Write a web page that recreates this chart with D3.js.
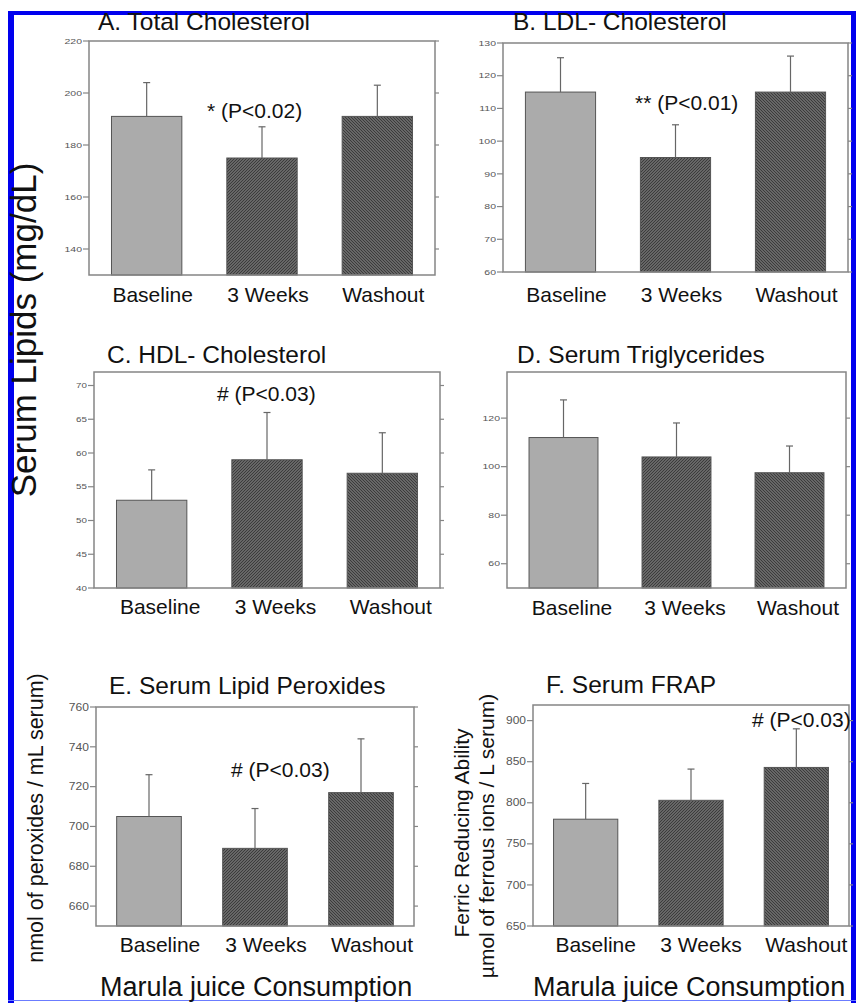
<!DOCTYPE html>
<html>
<head>
<meta charset="utf-8">
<script src="https://cdn.jsdelivr.net/npm/d3@7"></script>
<style>
  html, body { margin: 0; padding: 0; background: #fff; }
  svg { display: block; }
  text { font-family: "Liberation Sans", Arial, Helvetica, sans-serif; }
</style>
</head>
<body>
<svg id="chart" width="856" height="1003"></svg>
<script>
// ---------------- DATA ----------------
const categories = ["Baseline", "3 Weeks", "Washout"];

const totalCholMean = [191, 175, 191];
const totalCholErr  = [204, 187, 203];
const totalCholTicks = [140, 160, 180, 200, 220];

const ldlMean = [115, 95, 115];
const ldlErr  = [125.5, 105, 126];
const ldlTicks = [60, 70, 80, 90, 100, 110, 120, 130];

const hdlMean = [53, 59, 57];
const hdlErr  = [57.5, 66, 63];
const hdlTicks = [40, 45, 50, 55, 60, 65, 70];

const trigMean = [112, 104, 97.5];
const trigErr  = [127.5, 118, 108.5];
const trigTicks = [60, 80, 100, 120];

const peroxMean = [705, 689, 717];
const peroxErr  = [726, 709, 744];
const peroxTicks = [660, 680, 700, 720, 740, 760];

const frapMean = [780, 803, 843];
const frapErr  = [823.5, 841, 890];
const frapTicks = [650, 700, 750, 800, 850, 900];

const panelTitles = ["A. Total Cholesterol", "B. LDL- Cholesterol", "C. HDL- Cholesterol",
                     "D. Serum Triglycerides", "E. Serum Lipid Peroxides", "F. Serum FRAP"];
const annotations = ["* (P<0.02)", "** (P<0.01)", "# (P<0.03)", "", "# (P<0.03)", "# (P<0.03)"];

// ---------------- LAYOUT ----------------
const panels = [
  { title: panelTitles[0], mean: totalCholMean, err: totalCholErr, ticks: totalCholTicks, domain: [130, 220],
    x0: 89, x1: 435, y0: 41, y1: 275, tx: 98, ty: 30, note: annotations[0], nx: 207, ny: 118, lby: 302, ldx: 6, tf: 7.5, tsx: 1.4 },
  { title: panelTitles[1], mean: ldlMean, err: ldlErr, ticks: ldlTicks, domain: [60, 130],
    x0: 503, x1: 848, y0: 43, y1: 272, tx: 513, ty: 30, note: annotations[1], nx: 635, ny: 110, lby: 302, ldx: 6, tf: 7.5, tsx: 1.4 },
  { title: panelTitles[2], mean: hdlMean, err: hdlErr, ticks: hdlTicks, domain: [40, 72],
    x0: 94, x1: 440, y0: 372, y1: 588, tx: 107, ty: 363, note: annotations[2], nx: 217, ny: 401, lby: 614, ldx: 8.5, tf: 7, tsx: 1.4 },
  { title: panelTitles[3], mean: trigMean, err: trigErr, ticks: trigTicks, domain: [50, 139],
    x0: 507, x1: 846, y0: 372, y1: 588, tx: 517, ty: 363, note: annotations[3], nx: 0, ny: 0, lby: 615, ldx: 8.5, tf: 7.5, tsx: 1.4 },
  { title: panelTitles[4], mean: peroxMean, err: peroxErr, ticks: peroxTicks, domain: [650, 760],
    x0: 96, x1: 414, y0: 707, y1: 926, tx: 109, ty: 694, note: annotations[4], nx: 231, ny: 777, lby: 952, ldx: 11, tf: 10.5, tsx: 1.15 },
  { title: panelTitles[5], mean: frapMean, err: frapErr, ticks: frapTicks, domain: [650, 919],
    x0: 533, x1: 849, y0: 705, y1: 926, tx: 546, ty: 693, note: annotations[5], nx: 752, ny: 727, lby: 952, ldx: 10, tf: 10, tsx: 1.2 }
];

const svg = d3.select("#chart");

// hatch patterns
const defs = svg.append("defs");
function hatch(id, dir) {
  const p = defs.append("pattern").attr("id", id).attr("patternUnits", "userSpaceOnUse")
    .attr("width", 3).attr("height", 3);
  p.append("rect").attr("width", 3).attr("height", 3).attr("fill", "#7a7a7a");
  if (dir > 0) {
    p.append("path").attr("d", "M-1,1 L1,-1 M0,3 L3,0 M2,4 L4,2").attr("stroke", "#383838").attr("stroke-width", 1.1);
  } else {
    p.append("path").attr("d", "M-1,2 L1,4 M0,0 L3,3 M2,-1 L4,1").attr("stroke", "#383838").attr("stroke-width", 1.1);
  }
}
hatch("hatchUp", 1);
hatch("hatchDown", -1);
const fills = ["#ababab", "url(#hatchUp)", "url(#hatchDown)"];

// blue outer frame
svg.append("rect").attr("x", 8).attr("y", 11).attr("width", 848).attr("height", 4).attr("fill", "#0000ee");
svg.append("rect").attr("x", 8).attr("y", 11).attr("width", 6).attr("height", 992).attr("fill", "#0000ee");
svg.append("rect").attr("x", 851).attr("y", 11).attr("width", 5).attr("height", 992).attr("fill", "#0000ee");
svg.append("rect").attr("x", 8).attr("y", 1000).attr("width", 848).attr("height", 1).attr("fill", "#6b7cff");

panels.forEach(p => {
  const g = svg.append("g");
  const x = d3.scaleBand().domain(categories).range([p.x0, p.x1]).paddingInner(0.39).paddingOuter(0.195);
  const y = d3.scaleLinear().domain(p.domain).range([p.y1, p.y0]);

  // bars
  g.selectAll("rect.bar").data(categories).join("rect")
    .attr("class", "bar")
    .attr("x", d => x(d))
    .attr("width", x.bandwidth())
    .attr("y", (d, i) => y(p.mean[i]))
    .attr("height", (d, i) => y(p.domain[0]) - y(p.mean[i]))
    .attr("fill", (d, i) => fills[i])
    .attr("stroke", "#555")
    .attr("stroke-width", 1);

  // error bars (upper only)
  categories.forEach((c, i) => {
    const cx = x(c) + x.bandwidth() / 2;
    g.append("line").attr("x1", cx).attr("x2", cx).attr("y1", y(p.mean[i])).attr("y2", y(p.err[i]))
      .attr("stroke", "#666").attr("stroke-width", 1.2);
    g.append("line").attr("x1", cx - 3.5).attr("x2", cx + 3.5).attr("y1", y(p.err[i])).attr("y2", y(p.err[i]))
      .attr("stroke", "#666").attr("stroke-width", 1.2);
  });

  // frame
  g.append("rect").attr("x", p.x0).attr("y", p.y0).attr("width", p.x1 - p.x0).attr("height", p.y1 - p.y0)
    .attr("fill", "none").attr("stroke", "#858585").attr("stroke-width", 1.5);

  // ticks (left outward, right outward)
  p.ticks.forEach(t => {
    const ty = y(t);
    g.append("line").attr("x1", p.x0 - 6).attr("x2", p.x0).attr("y1", ty).attr("y2", ty)
      .attr("stroke", "#858585").attr("stroke-width", 1.2);
    g.append("line").attr("x1", p.x1).attr("x2", p.x1 + 4).attr("y1", ty).attr("y2", ty)
      .attr("stroke", "#858585").attr("stroke-width", 1.2);
    g.append("text")
      .attr("transform", `translate(${p.x0 - 7},${ty}) scale(${p.tsx},1)`)
      .attr("text-anchor", "end").attr("dy", "0.36em")
      .attr("font-size", p.tf).attr("fill", "#555")
      .text(t);
  });

  // category labels
  categories.forEach(c => {
    g.append("text").attr("x", x(c) + x.bandwidth() / 2 + p.ldx).attr("y", p.lby)
      .attr("text-anchor", "middle").attr("font-size", 21).attr("fill", "#111").text(c);
  });

  // title
  g.append("text").attr("x", p.tx).attr("y", p.ty).attr("font-size", 24.5).attr("fill", "#111").text(p.title);

  // annotation
  if (p.note) {
    g.append("text").attr("x", p.nx).attr("y", p.ny).attr("font-size", 21).attr("fill", "#111").text(p.note);
  }
});

// axis titles
svg.append("text").attr("transform", "translate(36,330) rotate(-90)").attr("text-anchor", "middle")
  .attr("font-size", 35).attr("fill", "#111").text("Serum Lipids (mg/dL)");
svg.append("text").attr("transform", "translate(43,818) rotate(-90)").attr("text-anchor", "middle")
  .attr("font-size", 21.5).attr("fill", "#111").text("nmol of peroxides / mL serum)");
svg.append("text").attr("transform", "translate(469,833) rotate(-90)").attr("text-anchor", "middle")
  .attr("font-size", 21).attr("fill", "#111").text("Ferric Reducing Ability");
svg.append("text").attr("transform", "translate(494,836) rotate(-90)").attr("text-anchor", "middle")
  .attr("font-size", 21).attr("fill", "#111").text("µmol of ferrous ions / L serum)");

svg.append("text").attr("x", 100).attr("y", 996).attr("font-size", 27).attr("fill", "#111").text("Marula juice Consumption");
svg.append("text").attr("x", 533).attr("y", 996).attr("font-size", 27).attr("fill", "#111").text("Marula juice Consumption");
</script>
</body>
</html>
